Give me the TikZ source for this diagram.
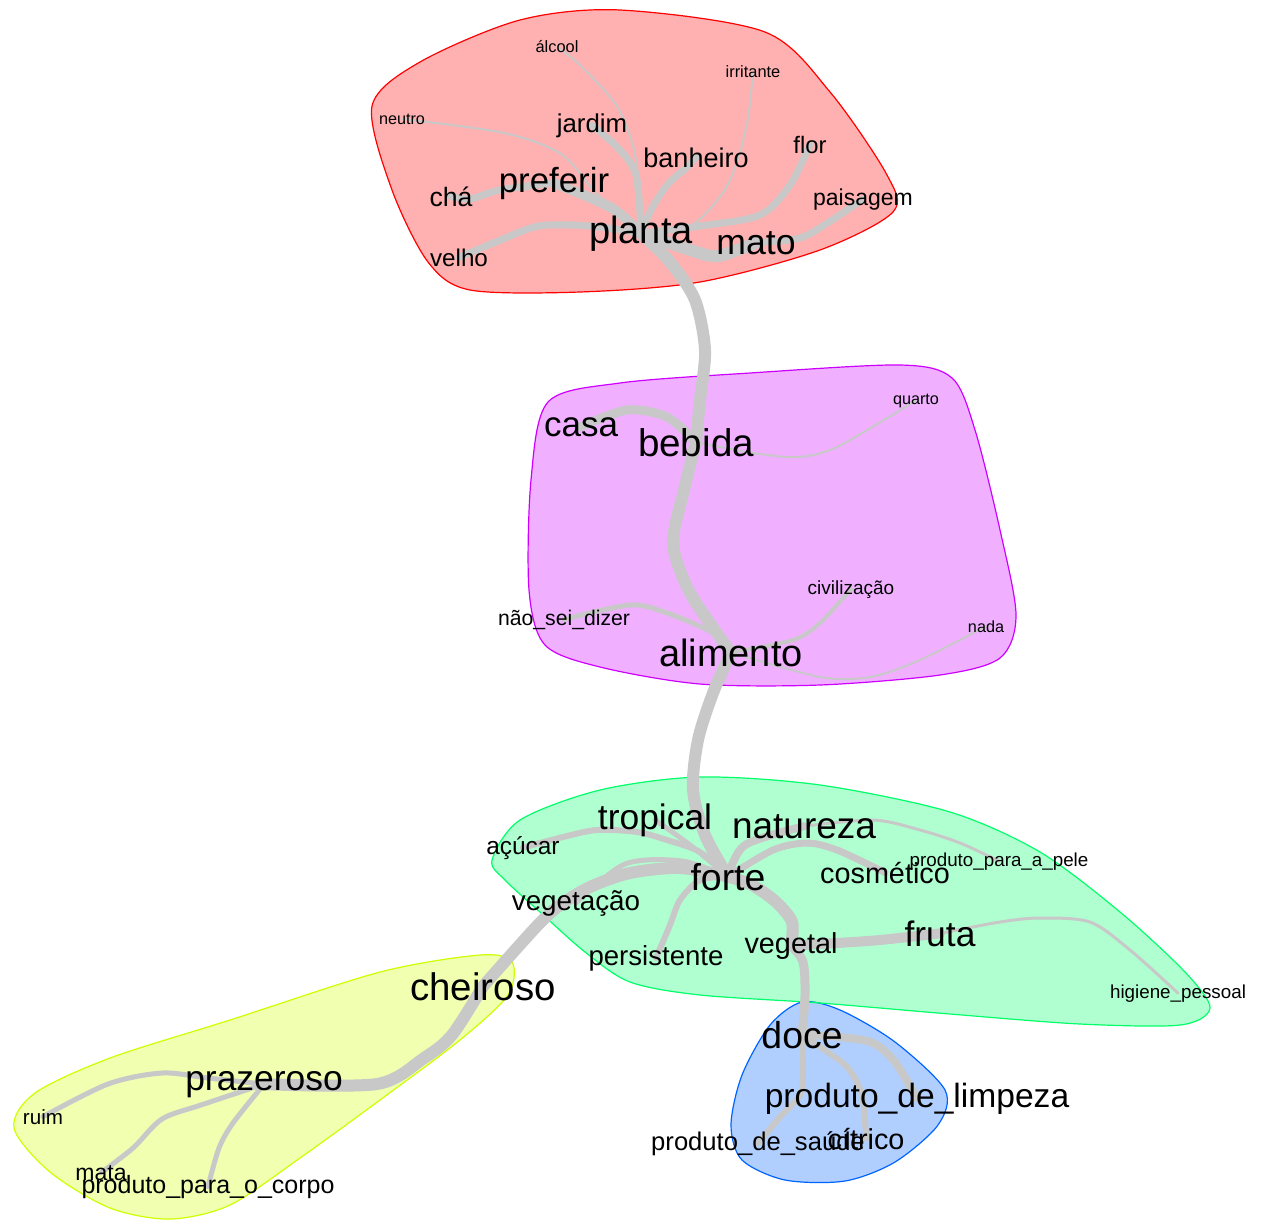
\documentclass[tikz,border=0pt]{standalone}
\usepackage{fontspec}
\setmainfont{Liberation Sans}

\definecolor{tiegray}{RGB}{200,200,200}
\definecolor{redset}{RGB}{255,0,0}
\definecolor{pinkset}{RGB}{205,0,255}
\definecolor{greenset}{RGB}{0,255,105}
\definecolor{yellowset}{RGB}{205,255,0}
\definecolor{blueset}{RGB}{0,100,255}

\pgfdeclarelayer{hulls}
\pgfdeclarelayer{ties}
\pgfsetlayers{hulls,ties,main}

\begin{document}
\begin{tikzpicture}[x=0.5pt,y=-0.5pt,
    word/.style={anchor=base,inner sep=0pt,font=\fontsize{#1}{#1}\selectfont},
    tie/.style={draw=tiegray,line width=#1,line cap=round,line join=round},
    hull/.style={draw=#1,fill=#1,fill opacity=0.31,line width=0.6pt}]
  \useasboundingbox (0,0) rectangle (1261,1220);

  % planta group
  \node[word=19] (planta) at (641,243) {planta};
  \node[word=17.8] (mato) at (756,254) {mato};
  \node[word=17.4] (preferir) at (554,192) {preferir};
  \node[word=13.3] (cha) at (451,206) {chá};
  \node[word=12.1] (velho) at (459,266) {velho};
  \node[word=12.9] (jardim) at (592,132) {jardim};
  \node[word=13.5] (banheiro) at (696,167) {banheiro};
  \node[word=11.9] (flor) at (810,153) {flor};
  \node[word=11.5] (paisagem) at (863,205) {paisagem};
  \node[word=8.1] (neutro) at (402,124) {neutro};
  \node[word=8.2] (alcool) at (557,53) {álcool};
  \node[word=8.2] (irritante) at (753,78) {irritante};

  % alimento group
  \node[word=17.5] (casa) at (581,436) {casa};
  \node[word=19.3] (bebida) at (696,456) {bebida};
  \node[word=8.1] (quarto) at (916,404) {quarto};
  \node[word=9.5] (civilizacao) at (851,594) {civilização};
  \node[word=10.6] (naosei) at (564,625) {não\_sei\_dizer};
  \node[word=8.1] (nada) at (986,632) {nada};
  \node[word=19] (alimento) at (731,666) {alimento};

  % forte group
  \node[word=17.7] (tropical) at (655,829) {tropical};
  \node[word=18.5] (natureza) at (804,838) {natureza};
  \node[word=12.2] (acucar) at (523,854) {açúcar};
  \node[word=9.4] (pele) at (999,866) {produto\_para\_a\_pele};
  \node[word=18.7] (forte) at (728,890) {forte};
  \node[word=14.4] (cosmetico) at (885,883) {cosmético};
  \node[word=13.9] (vegetacao) at (576,910) {vegetação};
  \node[word=13.8] (persistente) at (656,965) {persistente};
  \node[word=14.4] (vegetal) at (791,953) {vegetal};
  \node[word=17.7] (fruta) at (940,946) {fruta};
  \node[word=9.4] (higiene) at (1178,998) {higiene\_pessoal};

  % cheiroso group
  \node[word=19.2] (cheiroso) at (483,1000) {cheiroso};
  \node[word=17.7] (prazeroso) at (264,1090) {prazeroso};
  \node[word=10.3] (ruim) at (43,1124) {ruim};
  \node[word=11.5] (mata) at (101,1180) {mata};
  \node[word=12.5] (corpo) at (208,1193) {produto\_para\_o\_corpo};

  % doce group
  \node[word=18.7] (doce) at (802,1048) {doce};
  \node[word=16.8] (limpeza) at (917,1107) {produto\_de\_limpeza};
  \node[word=12.8] (saude) at (758,1150) {produto\_de\_saúde};
  \node[word=14.4] (citrico) at (866,1149) {cítrico};

  \begin{pgfonlayer}{hulls}
    \draw[hull=redset] plot[smooth cycle] coordinates {(372,106) (420,62) (520,20) (620,10) (765,32)
      (830,92) (887,175) (893,212) (820,250) (700,282) (580,292) (470,290) (428,262) (392,190)};
    \draw[hull=pinkset] plot[smooth cycle] coordinates {(548,402) (620,383) (750,373) (900,365) (952,378)
      (975,430) (1000,530) (1016,615) (1000,658) (940,675) (820,685) (700,684) (600,667) (545,645)
      (529,590) (531,480)};
    \draw[hull=blueset] plot[smooth cycle] coordinates {(802,1002) (840,1010) (895,1042) (945,1090)
      (938,1125) (895,1162) (845,1181) (785,1180) (742,1160) (731,1125) (742,1075) (770,1025)};
    \draw[hull=greenset] plot[smooth cycle] coordinates {(492,860) (520,820) (600,790) (700,777)
      (820,785) (950,812) (1040,852) (1120,912) (1185,972) (1210,1008) (1180,1025) (1080,1024)
      (950,1014) (820,1003) (700,995) (630,982) (585,952) (540,912) (505,880)};
    \draw[hull=yellowset] plot[smooth cycle] coordinates {(480,955) (512,962) (508,995) (460,1040)
      (380,1100) (300,1158) (230,1205) (170,1219) (110,1208) (50,1172) (14,1128) (35,1093)
      (110,1058) (230,1020) (380,972)};
  \end{pgfonlayer}

  \begin{pgfonlayer}{ties}
    % trunk
    \draw[tie=6pt] plot[smooth] coordinates {(planta.center) (670,262) (695,300) (705,350) (700,400) (bebida.center)};
    \draw[tie=6pt] plot[smooth] coordinates {(bebida.center) (684,490) (673,543) (687,587) (709,622) (alimento.center)};
    \draw[tie=6pt] plot[smooth] coordinates {(alimento.center) (713,693) (698,740) (693,790) (705,835) (forte.center)};
    \draw[tie=6pt] plot[smooth] coordinates {(forte.center) (680,868) (630,873) (590,887) (560,905) (536,927) (cheiroso.center)};
    \draw[tie=6pt] plot[smooth] coordinates {(cheiroso.center) (452,1035) (424,1058) (377,1084) (prazeroso.center)};
    \draw[tie=6pt] plot[smooth] coordinates {(forte.center) (752,885) (776,902) (792,922) (vegetal.center)};
    \draw[tie=4.5pt] plot[smooth] coordinates {(vegetal.center) (803,962) (805,995) (doce.center)};
    % planta
    \draw[tie=6pt] plot[smooth] coordinates {(planta.center) (690,250) (718,256) (mato.center)};
    \draw[tie=3.5pt] plot[smooth] coordinates {(mato.center) (800,238) (832,220) (paisagem.center)};
    \draw[tie=3.5pt] plot[smooth] coordinates {(planta.center) (700,226) (760,215) (790,185) (flor.center)};
    \draw[tie=3.5pt] plot[smooth] coordinates {(planta.center) (652,208) (668,184) (686,168) (banheiro.center)};
    \draw[tie=3.5pt] plot[smooth] coordinates {(planta.center) (636,175) (618,148) (jardim.center)};
    \draw[tie=5pt] plot[smooth] coordinates {(planta.center) (610,207) (preferir.center)};
    \draw[tie=3.5pt] plot[smooth] coordinates {(preferir.center) (500,190) (470,199) (cha.center)};
    \draw[tie=3.5pt] plot[smooth] coordinates {(planta.center) (590,226) (539,226) (496,242) (velho.center)};
    \draw[tie=1pt] plot[smooth] coordinates {(planta.center) (597,194) (561,154) (504,133) (neutro.center)};
    \draw[tie=1pt] plot[smooth] coordinates {(planta.center) (636,160) (618,108) (580,65) (alcool.center)};
    \draw[tie=1pt] plot[smooth] coordinates {(planta.center) (690,226) (722,194) (737,162) (748,118) (irritante.center)};
    % alimento
    \draw[tie=4.5pt] plot[smooth] coordinates {(bebida.center) (667,417) (627,410) (casa.center)};
    \draw[tie=1pt] plot[smooth] coordinates {(bebida.center) (753,453) (797,457) (837,447) (quarto.center)};
    \draw[tie=2.5pt] plot[smooth] coordinates {(alimento.center) (713,633) (667,613) (630,605) (naosei.center)};
    \draw[tie=2pt] plot[smooth] coordinates {(alimento.center) (793,640) (820,623) (civilizacao.center)};
    \draw[tie=1pt] plot[smooth] coordinates {(alimento.center) (820,677) (870,677) (920,660) (nada.center)};
    % forte
    \draw[tie=4pt] plot[smooth] coordinates {(forte.center) (745,845) (natureza.center)};
    \draw[tie=3.5pt] plot[smooth] coordinates {(forte.center) (773,850) (807,843) (837,850) (cosmetico.center)};
    \draw[tie=1.5pt] plot[smooth] coordinates {(natureza.center) (873,820) (920,830) (960,843) (pele.center)};
    \draw[tie=3pt] plot[smooth] coordinates {(forte.center) (700,852) (667,840) (637,832) (597,830) (563,837) (acucar.center)};
    \draw[tie=2.5pt] plot[smooth] coordinates {(forte.center) (690,845) (tropical.center)};
    \draw[tie=2.5pt] plot[smooth] coordinates {(forte.center) (682,861) (625,864) (vegetacao.center)};
    \draw[tie=3pt] plot[smooth] coordinates {(forte.center) (700,880) (680,900) (670,925) (persistente.center)};
    \draw[tie=5pt] plot[smooth] coordinates {(vegetal.center) (837,943) (880,940) (fruta.center)};
    \draw[tie=1.5pt] plot[smooth] coordinates {(fruta.center) (1000,922) (1040,918) (1090,922) (1130,950) (higiene.center)};
    % doce
    \draw[tie=4pt] plot[smooth] coordinates {(doce.center) (840,1037) (873,1043) (895,1062) (limpeza.center)};
    \draw[tie=3pt] plot[smooth] coordinates {(doce.center) (820,1047) (847,1067) (862,1095) (citrico.center)};
    \draw[tie=3pt] plot[smooth] coordinates {(doce.center) (803,1070) (800,1095) (780,1117) (saude.center)};
    % cheiroso
    \draw[tie=2.5pt] plot[smooth] coordinates {(prazeroso.center) (208,1078) (162,1073) (108,1084) (ruim.center)};
    \draw[tie=2.5pt] plot[smooth] coordinates {(prazeroso.center) (201,1105) (162,1119) (133,1148) (mata.center)};
    \draw[tie=2.5pt] plot[smooth] coordinates {(prazeroso.center) (233,1123) (219,1148) (corpo.center)};
  \end{pgfonlayer}
\end{tikzpicture}
\end{document}
